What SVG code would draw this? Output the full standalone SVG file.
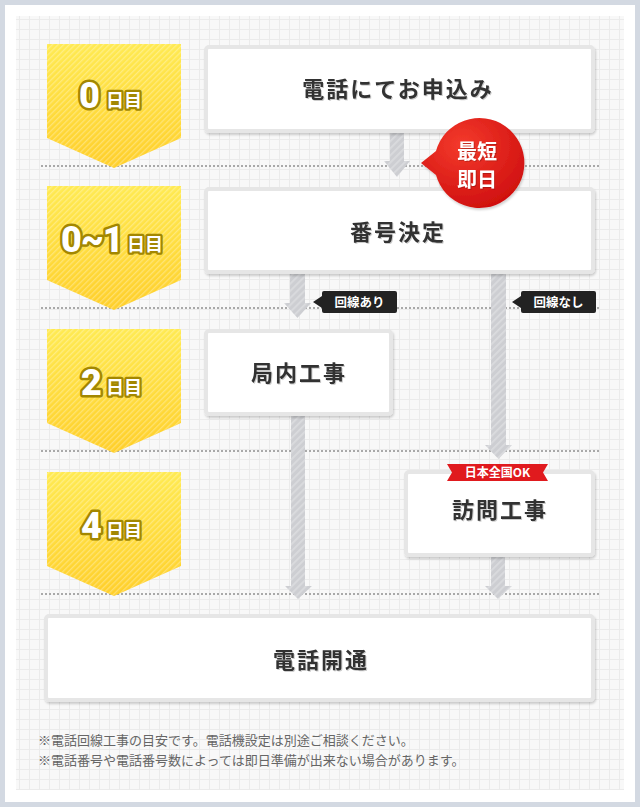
<svg xmlns="http://www.w3.org/2000/svg" width="640" height="807" viewBox="0 0 640 807">
<defs>
<pattern id="grid" x="0" y="0" width="10" height="10" patternUnits="userSpaceOnUse">
<rect width="10" height="10" fill="#f8f8f8"/>
<path d="M9.5 0V10M0 9.5H10" stroke="#ebebeb" stroke-width="1"/>
</pattern>
<linearGradient id="yel" x1="0" y1="0" x2="0" y2="1">
<stop offset="0" stop-color="#ffea52"/>
<stop offset="1" stop-color="#ffcf2a"/>
</linearGradient>
<pattern id="ystripe" width="4" height="4" patternUnits="userSpaceOnUse" patternTransform="rotate(45)">
<rect width="1.3" height="4" fill="#ffffff" fill-opacity="0.3"/>
</pattern>
<pattern id="gstripe" width="5" height="5" patternUnits="userSpaceOnUse" patternTransform="rotate(45)">
<rect width="5" height="5" fill="#cdced2"/>
<rect width="1.8" height="5" fill="#dadbde"/>
</pattern>
<radialGradient id="redg" cx="0.4" cy="0.3" r="0.8">
<stop offset="0" stop-color="#f43a2c"/>
<stop offset="1" stop-color="#cc0c0c"/>
</radialGradient>
<filter id="sh" x="-10%" y="-10%" width="120%" height="130%">
<feDropShadow dx="1" dy="2" stdDeviation="1.2" flood-color="#000" flood-opacity="0.18"/>
</filter>
<filter id="tsh" x="-10%" y="-10%" width="120%" height="130%">
<feDropShadow dx="1" dy="1" stdDeviation="0.6" flood-color="#000" flood-opacity="0.2"/>
</filter>
</defs>
<style>
.box{fill:#ffffff;stroke:#e6e6e6;stroke-width:4;}
.bt{font-family:"Noto Sans CJK JP","Noto Sans",sans-serif;font-size:22px;font-weight:bold;fill:#333333;text-anchor:middle;letter-spacing:2px;}
.ban{fill:url(#yel);}
.banS{fill:url(#ystripe);}
.dig{font-family:Roboto,"Liberation Sans",sans-serif;font-weight:900;font-size:36px;fill:#ffffff;stroke:#a38700;stroke-width:5;paint-order:stroke;stroke-linejoin:round;}
.day{font-family:"Noto Sans CJK JP",sans-serif;font-weight:bold;font-size:18px;fill:#ffffff;stroke:#a38700;stroke-width:4.5;paint-order:stroke;stroke-linejoin:round;}
.dot{stroke:#a9a9a9;stroke-width:2;stroke-dasharray:2 2;fill:none;}
.arr{fill:url(#gstripe);}
.lbl{fill:#222222;}
.lt{font-family:"Noto Sans CJK JP",sans-serif;font-weight:bold;font-size:12.5px;fill:#ffffff;text-anchor:middle;}
.note{font-family:"Noto Sans CJK JP",sans-serif;font-size:13px;fill:#666666;}
.bub{font-family:"Noto Sans CJK JP",sans-serif;font-weight:bold;font-size:20px;fill:#ffffff;text-anchor:middle;}
</style>
<rect width="640" height="807" fill="#d3d9e2"/>
<rect x="5" y="5" width="630" height="797" fill="#ffffff"/>
<rect x="16" y="16" width="608" height="774" fill="url(#grid)"/>

<g id="separators">
<path class="dot" d="M41 166H600M41 308H600M41 451H600M41 594H600"/>
</g>

<g id="connectors">
<path class="arr" d="M390 131H404V161H410L397 177L384 161H390Z"/>
<path class="arr" d="M290 272H305V303H311L297.5 318L284 303H290Z"/>
<path class="arr" d="M491 272H506V445H512L498.5 459L485 445H491Z"/>
<path class="arr" d="M291 414H305V586H312L298 599L285 586H291Z"/>
<path class="arr" d="M491 555H505V586H512L498 599L485 586H491Z"/>
</g>

<g id="day0">
<path class="ban" d="M47 44H181V138L114 168L47 138Z"/>
<path class="banS" d="M47 44H181V138L114 168L47 138Z"/>
<text class="dig" x="79" y="108">0</text>
<text class="day" x="106" y="107">日目</text>
</g>
<g id="day0-1">
<path class="ban" d="M47 186H181V280L114 310L47 280Z"/>
<path class="banS" d="M47 186H181V280L114 310L47 280Z"/>
<text class="dig" x="61" y="252">0<tspan dx="-1">~</tspan><tspan dx="-1">1</tspan></text>
<text class="day" x="127" y="251">日目</text>
</g>
<g id="day2">
<path class="ban" d="M47 329H181V423L114 453L47 423Z"/>
<path class="banS" d="M47 329H181V423L114 453L47 423Z"/>
<text class="dig" x="81" y="395">2</text>
<text class="day" x="106" y="394">日目</text>
</g>
<g id="day4">
<path class="ban" d="M47 472H181V566L114 596L47 566Z"/>
<path class="banS" d="M47 472H181V566L114 596L47 566Z"/>
<text class="dig" x="81" y="538">4</text>
<text class="day" x="106" y="537">日目</text>
</g>

<g id="n-apply">
<rect class="box" x="206" y="47" width="387" height="84" rx="3" filter="url(#sh)"/>
<text class="bt" x="398" y="97" filter="url(#tsh)">電話にてお申込み</text>
</g>
<g id="n-number">
<rect class="box" x="206" y="189" width="387" height="83" rx="3" filter="url(#sh)"/>
<text class="bt" x="398" y="240" filter="url(#tsh)">番号決定</text>
</g>
<g id="n-office">
<rect class="box" x="206" y="331" width="185" height="83" rx="3" filter="url(#sh)"/>
<text class="bt" x="299" y="381" filter="url(#tsh)">局内工事</text>
</g>
<g id="n-visit">
<rect class="box" x="406" y="472" width="187" height="83" rx="3" filter="url(#sh)"/>
<text class="bt" x="500" y="518" filter="url(#tsh)">訪問工事</text>
<path d="M447 464H548L543 472.5L548 481H447L452 472.5Z" fill="#e01a1e"/>
<text x="497.5" y="477" font-family="Noto Sans CJK JP,sans-serif" font-weight="bold" font-size="12" fill="#ffffff" text-anchor="middle">日本全国OK</text>
</g>
<g id="n-open">
<rect class="box" x="46" y="616" width="547" height="84" rx="3" filter="url(#sh)"/>
<text class="bt" x="321" y="668" filter="url(#tsh)">電話開通</text>
</g>

<g id="badge-fast">
<path d="M421 163L436 151A45 45 0 1 1 436 175Z" fill="url(#redg)" filter="url(#sh)"/>
<text class="bub" x="477" y="159" filter="url(#tsh)">最短</text>
<text class="bub" x="477" y="187" filter="url(#tsh)">即日</text>
</g>

<g id="label-with">
<path class="lbl" d="M313 302L322 296V293A2 2 0 0 1 324 291H395A2 2 0 0 1 397 293V311A2 2 0 0 1 395 313H324A2 2 0 0 1 322 311V308Z"/>
<text class="lt" x="359.5" y="306.5">回線あり</text>
</g>
<g id="label-without">
<path class="lbl" d="M512 302L521 296V293A2 2 0 0 1 523 291H594A2 2 0 0 1 596 293V311A2 2 0 0 1 594 313H523A2 2 0 0 1 521 311V308Z"/>
<text class="lt" x="558.5" y="306.5">回線なし</text>
</g>

<g id="notes">
<text class="note" x="38" y="745">※電話回線工事の目安です。電話機設定は別途ご相談ください。</text>
<text class="note" x="38" y="765">※電話番号や電話番号数によっては即日準備が出来ない場合があります。</text>
</g>
</svg>
